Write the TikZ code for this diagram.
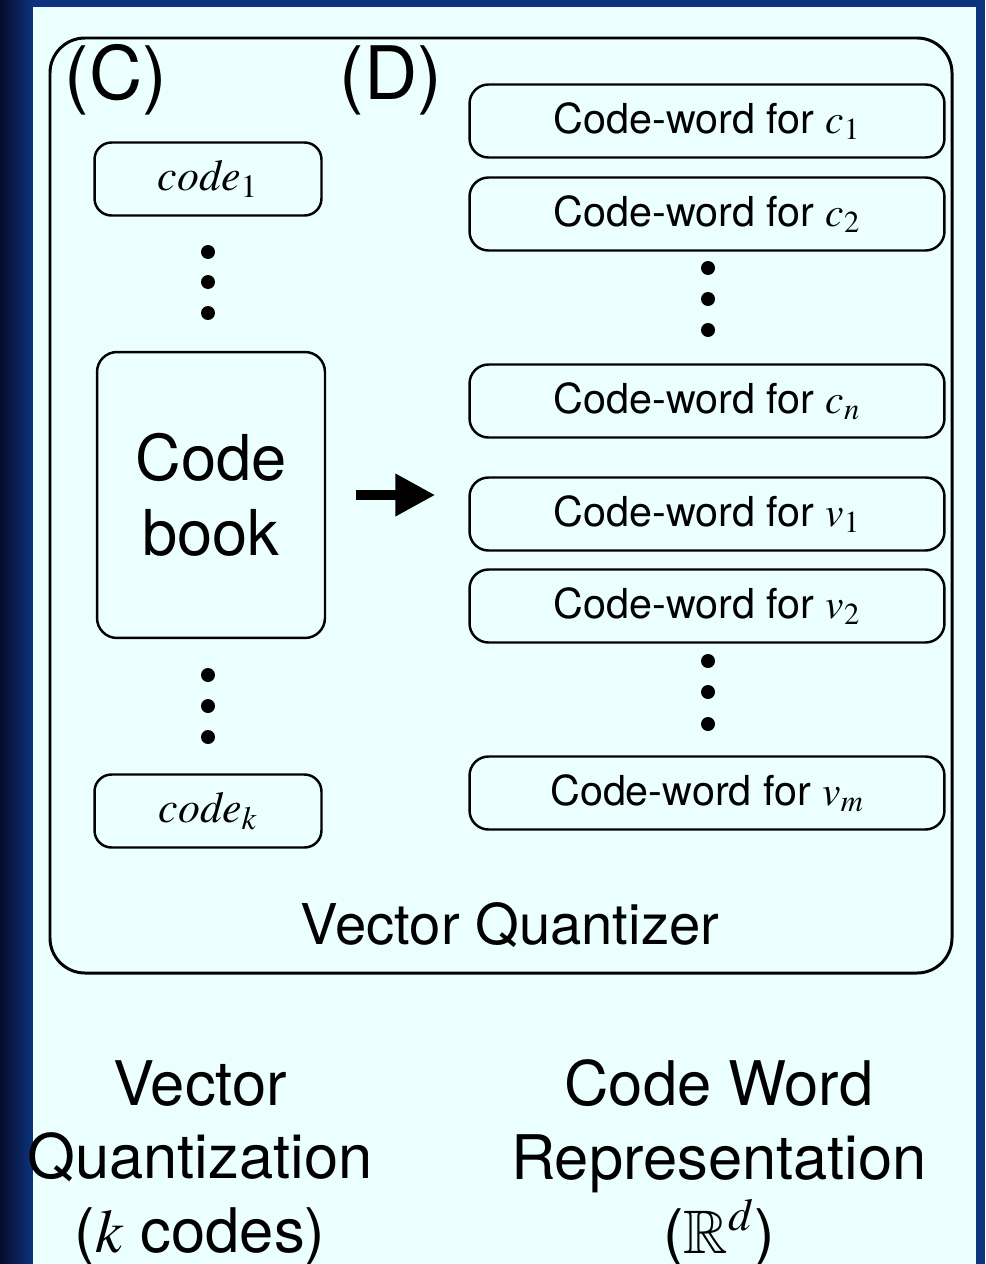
\documentclass[tikz,border=0pt]{standalone}
\usepackage{mathptmx}
\usepackage{amssymb}
\usepackage[no-math]{fontspec}
\setmainfont{TeX Gyre Heros}
\usetikzlibrary{arrows.meta, positioning}
\definecolor{frame_dark}{rgb}{0.02, 0.05, 0.16}
\definecolor{frame_blue}{rgb}{0.05, 0.20, 0.50}
\definecolor{panel_cyan}{rgb}{0.92, 1.0, 1.0}
\tikzset{
  cwbox/.style={draw, line width=1.4pt, rounded corners=0.38cm, minimum width=9.5cm,
    minimum height=1.46cm, font=\fontsize{23.5}{26}\selectfont},
  codebox/.style={draw, line width=1.4pt, rounded corners=0.34cm, minimum width=4.54cm,
    minimum height=1.46cm, font=\fontsize{25}{28}\selectfont},
  bigarrow/.style={line width=0.2cm, -{Triangle[length=0.8cm, width=0.8cm]}},
  tag/.style={font=\fontsize{42}{46}\selectfont},
  caption/.style={align=center, font=\fontsize{35}{42}\selectfont}
}

\begin{document}
\begin{tikzpicture}[x=0.02cm, y=-0.02cm]
        % frame and panel
        \fill[frame_blue] (0,0) rectangle (985,1264);
        \shade[left color=frame_dark, right color=frame_blue] (0,0) rectangle (33,1264);
        \fill[panel_cyan] (33,7) rectangle (976,1264);
        \useasboundingbox (0,0) rectangle (985,1264);

        % vector quantizer outline
        \draw[line width=1.7pt, rounded corners=0.7cm] (50,38) rectangle (952,973);
        \node (vqlabel) at (510,925) {\fontsize{32}{36}\selectfont Vector Quantizer};
        \node[tag] (tagC) at (116,80) {(C)};
        \node[tag] (tagD) at (391,80) {(D)};

        % code book column
        \node[codebox] (code1) at (208,179) {$\mathit{code}_1$};
        \node[codebox] (codek) at (208,811) {$\mathit{code}_k$};
        \node[draw, line width=1.4pt, rounded corners=0.4cm, minimum width=4.56cm,
          minimum height=5.72cm, align=center, font=\fontsize{36}{43}\selectfont]
          (book) at (211,495) {Code\\book};
        \foreach \y in {252,282,313,675,706,737}
          \fill (208,\y) circle (0.14cm);

        % code-word column
        \node[cwbox] (cwc1) at (707,121) {Code-word for $c_1$};
        \node[cwbox] (cwc2) at (707,214) {Code-word for $c_2$};
        \node[cwbox] (cwcn) at (707,401) {Code-word for $c_n$};
        \node[cwbox] (cwv1) at (707,514) {Code-word for $v_1$};
        \node[cwbox] (cwv2) at (707,606) {Code-word for $v_2$};
        \node[cwbox] (cwvm) at (707,793) {Code-word for $v_m$};
        \foreach \y in {268,299,330,661,692,724}
          \fill (708,\y) circle (0.14cm);

        \draw[bigarrow, shorten <=0.6cm, shorten >=0.66cm] (book.east) -- (book.east -| cwv1.west);

        % captions
        \node[caption] (leftcap) at (200,1163) {Vector\\Quantization\\($k$ codes)};
        \node[caption] (rightcap) at (719,1163) {Code Word\\Representation\\($\mathbb{R}^d$)};
    \end{tikzpicture}
\end{document}
